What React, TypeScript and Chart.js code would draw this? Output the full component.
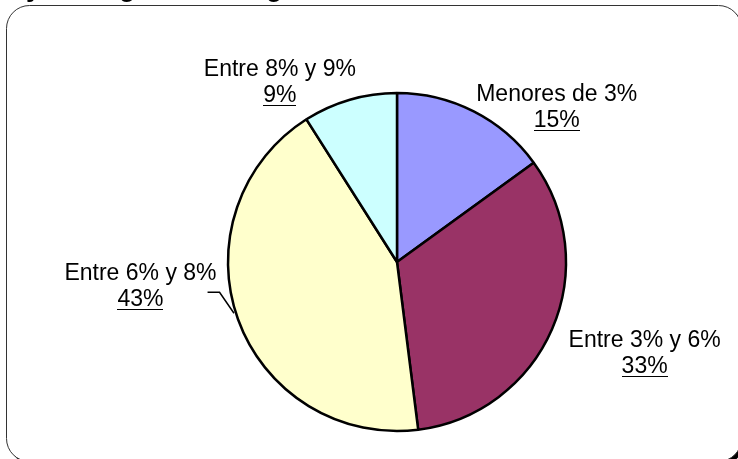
import React, { useEffect, useRef } from "react";
import { Chart, registerables } from "chart.js";

Chart.register(...registerables);

const categories = ["Menores de 3%", "Entre 3% y 6%", "Entre 6% y 8%", "Entre 8% y 9%"];
const values = [15, 33, 43, 9];
const sliceColors = ["#9999FF", "#993366", "#FFFFCC", "#CCFFFF"];
const titleText = "Relación entre la tasa de interés y los ingresos: rango de tasas";
const titlePrefix = "Relación entre la tasa de interés ";

const FONT = "'Liberation Sans', Arial, Helvetica, sans-serif";

function roundRectPath(ctx: CanvasRenderingContext2D, x: number, y: number, w: number, h: number, r: number) {
  ctx.beginPath();
  ctx.moveTo(x + r, y);
  ctx.lineTo(x + w - r, y);
  ctx.arcTo(x + w, y, x + w, y + r, r);
  ctx.lineTo(x + w, y + h - r);
  ctx.arcTo(x + w, y + h, x + w - r, y + h, r);
  ctx.lineTo(x + r, y + h);
  ctx.arcTo(x, y + h, x, y + h - r, r);
  ctx.lineTo(x, y + r);
  ctx.arcTo(x, y, x + r, y, r);
  ctx.closePath();
}

const framePlugin = {
  id: "frame",
  beforeDraw(chart: any) {
    const ctx: CanvasRenderingContext2D = chart.ctx;
    ctx.save();
    ctx.fillStyle = "#ffffff";
    ctx.fillRect(0, 0, chart.width, chart.height);
    // title (mostly cut off at the top)
    ctx.font = `bold 27px ${FONT}`;
    ctx.fillStyle = "#000";
    ctx.textAlign = "left";
    ctx.textBaseline = "alphabetic";
    const pw = ctx.measureText(titlePrefix).width;
    ctx.fillText(titleText, 26 - pw, -4);
    // shadow
    roundRectPath(ctx, 9.5, 8.5, 735, 456, 23);
    ctx.fillStyle = "#000";
    ctx.fill();
    // frame
    roundRectPath(ctx, 6.5, 5.5, 735, 456, 23);
    ctx.fillStyle = "#fff";
    ctx.fill();
    ctx.strokeStyle = "#333";
    ctx.lineWidth = 1;
    ctx.stroke();
    ctx.restore();
  },
};

const labelPlugin = {
  id: "sliceLabels",
  afterDatasetsDraw(chart: any, _args: any, opts: any) {
    const ctx: CanvasRenderingContext2D = chart.ctx;
    const meta = chart.getDatasetMeta(0);
    const data = chart.data.datasets[0].data as number[];
    const total = data.reduce((a, b) => a + b, 0);
    ctx.save();
    ctx.font = `${opts.fontSize}px ${FONT}`;
    ctx.fillStyle = "#000";
    ctx.strokeStyle = "#000";
    ctx.textAlign = "center";
    ctx.textBaseline = "alphabetic";
    meta.data.forEach((arc: any, i: number) => {
      const p = arc.getProps(["x", "y", "startAngle", "endAngle", "outerRadius"], true);
      const mid = (p.startAngle + p.endAngle) / 2;
      const ex = p.x + Math.cos(mid) * p.outerRadius;
      const ey = p.y + Math.sin(mid) * p.outerRadius;
      const [dx, dy] = opts.offsets[i];
      const lx = ex + dx;
      const ly = ey + dy;
      const name = String(chart.data.labels[i]);
      const pct = Math.round((data[i] / total) * 100) + "%";
      ctx.fillText(name, lx, ly);
      ctx.fillText(pct, lx, ly + opts.lineGap);
      const w = ctx.measureText(pct).width;
      ctx.fillRect(Math.round(lx - w / 2), Math.round(ly + opts.lineGap + 3), Math.round(w), 1);
      if (opts.leaders[i]) {
        const nw = ctx.measureText(name).width;
        const sx = lx + nw / 2 - 9;
        const sy = ly + 12;
        ctx.lineWidth = 1.5;
        ctx.beginPath();
        ctx.moveTo(sx, sy);
        ctx.lineTo(sx + 12, sy);
        ctx.lineTo(ex - 4, ey - 6);
        ctx.stroke();
      }
    });
    ctx.restore();
  },
};

export default function App() {
  const ref = useRef<HTMLCanvasElement | null>(null);
  useEffect(() => {
    if (!ref.current) return;
    const chart = new Chart(ref.current, {
      type: "pie",
      data: {
        labels: categories,
        datasets: [
          {
            data: values,
            backgroundColor: sliceColors,
            borderColor: "#000",
            borderWidth: 2.5,
            hoverOffset: 0,
          },
        ],
      },
      options: {
        animation: false,
        responsive: false,
        devicePixelRatio: 1,
        radius: 169,
        layout: { padding: { left: 60, right: 4, top: 70, bottom: 5 } },
        plugins: {
          legend: { display: false },
          tooltip: { enabled: false },
          sliceLabels: {
            fontSize: 23,
            lineGap: 26,
            offsets: [
              [83, -10],
              [92.5, 18],
              [-97.5, -39],
              [-70, -24],
            ],
            leaders: [false, false, true, false],
          },
        } as any,
      } as any,
      plugins: [framePlugin, labelPlugin],
    });
    return () => chart.destroy();
  }, []);
  return (
    <div style={{ position: "absolute", left: 0, top: 0, width: 738, height: 459 }}>
      <canvas ref={ref} width={738} height={459} style={{ display: "block" }} />
    </div>
  );
}
